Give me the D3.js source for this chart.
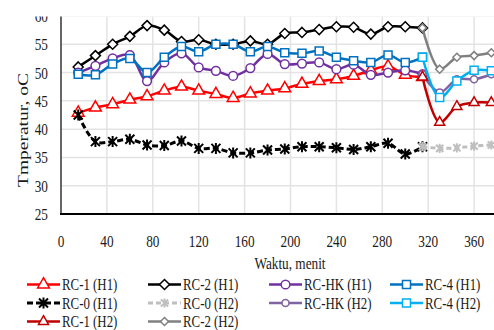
<!DOCTYPE html>
<html>
<head>
<meta charset="utf-8">
<script src="https://cdn.jsdelivr.net/npm/d3@7"></script>
<style>
  body { margin: 0; background: #fff; }
  svg { display: block; }
  text { font-family: "Liberation Serif", "DejaVu Serif", serif; fill: #1a1a1a; }
</style>
</head>
<body>
<div id="chart"></div>
<script>
// minutes
var timeH1 = [15, 30, 45, 60, 75, 90, 105, 120, 135, 150, 165, 180, 195, 210, 225, 240, 255, 270, 285, 300, 315];
var timeH2 = [315, 330, 345, 360, 375];

var rc1H1 = [42.9, 43.8, 44.4, 45.2, 45.8, 46.8, 47.5, 46.8, 46.2, 45.5, 46.3, 46.8, 47.2, 48.0, 48.5, 48.8, 49.4, 50.4, 51.1, 49.6, 49.2];
var rc2H1 = [51.0, 53.0, 55.0, 56.4, 58.3, 57.5, 55.5, 55.8, 55.0, 55.0, 55.6, 55.0, 56.9, 57.1, 57.6, 58.1, 58.0, 56.8, 58.1, 58.1, 57.9];
var rchkH1 = [50.0, 51.2, 52.5, 53.1, 48.5, 51.8, 53.4, 50.9, 50.3, 49.4, 50.8, 53.3, 51.5, 51.6, 51.8, 50.6, 51.4, 49.6, 50.0, 50.4, 49.7];
var rc4H1 = [49.7, 49.6, 51.5, 52.5, 50.0, 52.7, 54.6, 53.7, 55.0, 55.0, 53.7, 54.6, 53.5, 53.4, 53.8, 52.7, 52.1, 51.8, 53.1, 51.8, 52.7];
var rc0H1 = [42.5, 37.8, 37.8, 38.2, 37.2, 37.1, 37.9, 36.6, 36.6, 35.8, 35.8, 36.3, 36.5, 36.9, 36.9, 36.7, 36.4, 36.9, 37.5, 35.6, 36.9];

var rc0H2 = [36.9, 36.6, 36.7, 37.0, 37.2];
var rchkH2 = [49.7, 46.5, 48.8, 48.8, 49.7];
var rc4H2 = [52.7, 45.6, 48.5, 50.4, 50.3];
var rc1H2 = [49.2, 41.2, 44.0, 44.7, 44.7];
var rc2H2 = [57.9, 50.6, 52.7, 53.0, 53.5];

var xTicks = [0, 40, 80, 120, 160, 200, 240, 280, 320, 360, 400];
var yTicks = [25, 30, 35, 40, 45, 50, 55, 60];

var series = [
  {name: "RC-1 (H1)", t: timeH1, v: rc1H1, color: "#ff0000", marker: "triangle", size: 1, dash: null},
  {name: "RC-2 (H1)", t: timeH1, v: rc2H1, color: "#000000", marker: "diamond", size: 1, dash: null},
  {name: "RC-HK (H1)", t: timeH1, v: rchkH1, color: "#7030a0", marker: "circle", size: 1, dash: null},
  {name: "RC-4 (H1)", t: timeH1, v: rc4H1, color: "#0070c0", marker: "square", size: 1, dash: null},
  {name: "RC-0 (H1)", t: timeH1, v: rc0H1, color: "#000000", marker: "star", size: 1, dash: "6,3"},
  {name: "RC-0 (H2)", t: timeH2, v: rc0H2, color: "#bfbfbf", marker: "star", size: 0.8, dash: "5,3"},
  {name: "RC-HK (H2)", t: timeH2, v: rchkH2, color: "#8064a2", marker: "circle", size: 0.8, dash: null},
  {name: "RC-4 (H2)", t: timeH2, v: rc4H2, color: "#00b0f0", marker: "square", size: 1, dash: null},
  {name: "RC-1 (H2)", t: timeH2, v: rc1H2, color: "#c00000", marker: "triangle", size: 0.85, dash: null},
  {name: "RC-2 (H2)", t: timeH2, v: rc2H2, color: "#808080", marker: "diamond", size: 0.8, dash: null}
];

var W = 494, H = 330;
var sx = 0.78; // glyphs in the reference are horizontally squashed

var svg = d3.select("#chart").append("svg")
    .attr("width", W)
    .attr("height", H);

var x = d3.scaleLinear().domain([0, 400]).range([61, 520]);
var y = d3.scaleLinear().domain([25, 60]).range([214, 16]);

function label(g, txt, px, py, anchor, size) {
  return g.append("text")
      .attr("transform", "translate(" + px + "," + py + ") scale(" + sx + ",1)")
      .attr("text-anchor", anchor)
      .style("font-size", size + "px")
      .text(txt);
}

// grid
var grid = svg.append("g");
grid.selectAll(".gx")
    .data(xTicks.slice(1))
    .enter().append("line")
    .attr("x1", function (d) { return x(d); })
    .attr("x2", function (d) { return x(d); })
    .attr("y1", y(60))
    .attr("y2", y(25))
    .attr("stroke", "#e3e3e3")
    .attr("stroke-width", 1.5);
grid.selectAll(".gy")
    .data(yTicks.slice(1))
    .enter().append("line")
    .attr("x1", x(0))
    .attr("x2", W)
    .attr("y1", function (d) { return y(d); })
    .attr("y2", function (d) { return y(d); })
    .attr("stroke", "#e3e3e3")
    .attr("stroke-width", 1.5);

// markers
function markerPath(type, s) {
  if (type === "triangle") return d3.symbol().type(d3.symbolTriangle).size(60 * s * s)();
  if (type === "diamond") {
    var r = 5 * s;
    return "M0," + (-r) + "L" + r + ",0L0," + r + "L" + (-r) + ",0Z";
  }
  if (type === "square") {
    var q = 4 * s;
    return "M" + (-q) + "," + (-q) + "H" + q + "V" + q + "H" + (-q) + "Z";
  }
  if (type === "circle") return d3.symbol().type(d3.symbolCircle).size(60 * s * s)();
  // star: x plus vertical bar
  var a = 4.5 * s;
  return "M" + (-a) + "," + (-a) + "L" + a + "," + a +
         "M" + (-a) + "," + a + "L" + a + "," + (-a) +
         "M0," + (-a - 1) + "L0," + (a + 1);
}

function drawMarker(g, s, px, py) {
  var p = g.append("path")
      .attr("transform", "translate(" + px + "," + py + ")")
      .attr("d", markerPath(s.marker, s.size))
      .attr("stroke", s.color)
      .attr("stroke-width", s.marker === "star" ? 2 : 1.5);
  if (s.marker === "star") p.attr("fill", "none");
  else p.attr("fill", "#fff");
}

var line = d3.line()
    .x(function (d) { return x(d[0]); })
    .y(function (d) { return y(d[1]); })
    .curve(d3.curveCatmullRom.alpha(0.5));

var plot = svg.append("g");
series.forEach(function (s) {
  var pts = s.t.map(function (t, i) { return [t, s.v[i]]; });
  var g = plot.append("g");
  g.append("path")
      .datum(pts)
      .attr("d", line)
      .attr("fill", "none")
      .attr("stroke", s.color)
      .attr("stroke-width", s.dash ? 3 : 2.5)
      .attr("stroke-dasharray", s.dash);
  pts.forEach(function (p) { drawMarker(g, s, x(p[0]), y(p[1])); });
});

// axes
svg.append("line")
    .attr("x1", x(0)).attr("x2", x(0))
    .attr("y1", y(60)).attr("y2", y(25) + 1)
    .attr("stroke", "#333").attr("stroke-width", 1.5);
svg.append("line")
    .attr("x1", x(0) - 1).attr("x2", W)
    .attr("y1", y(25)).attr("y2", y(25))
    .attr("stroke", "#000").attr("stroke-width", 2);

var lab = svg.append("g");
yTicks.forEach(function (d) { label(lab, d, 48, y(d) + 6, "end", 17); });
xTicks.filter(function (d) { return x(d) < W - 10; })
    .forEach(function (d) { label(lab, d, x(d), 246.5, "middle", 17); });

// top of the picture is cut off
svg.append("rect").attr("x", 0).attr("y", 0).attr("width", W).attr("height", 16.5).attr("fill", "#fff");

label(lab, "Waktu, menit", 290, 269, "middle", 17);
lab.append("text")
    .attr("transform", "translate(28,130) scale(" + sx + ",1) rotate(-90)")
    .attr("text-anchor", "middle")
    .style("font-size", "19.5px")
    .text("Tmperatur, oC");

// legend
var colX = [27, 148, 269, 390];
var rowY = [284.5, 303, 321.5];
var leg = svg.append("g");
series.forEach(function (s, i) {
  var cx = colX[i % 4], cy = rowY[Math.floor(i / 4)];
  leg.append("line")
      .attr("x1", cx).attr("x2", cx + 33)
      .attr("y1", cy).attr("y2", cy)
      .attr("stroke", s.color)
      .attr("stroke-width", s.dash ? 3 : 2.5)
      .attr("stroke-dasharray", s.dash);
  drawMarker(leg, s, cx + 16.5, cy);
  label(leg, s.name, cx + 35, cy + 5.5, "start", 16.5);
});
</script>
</body>
</html>
